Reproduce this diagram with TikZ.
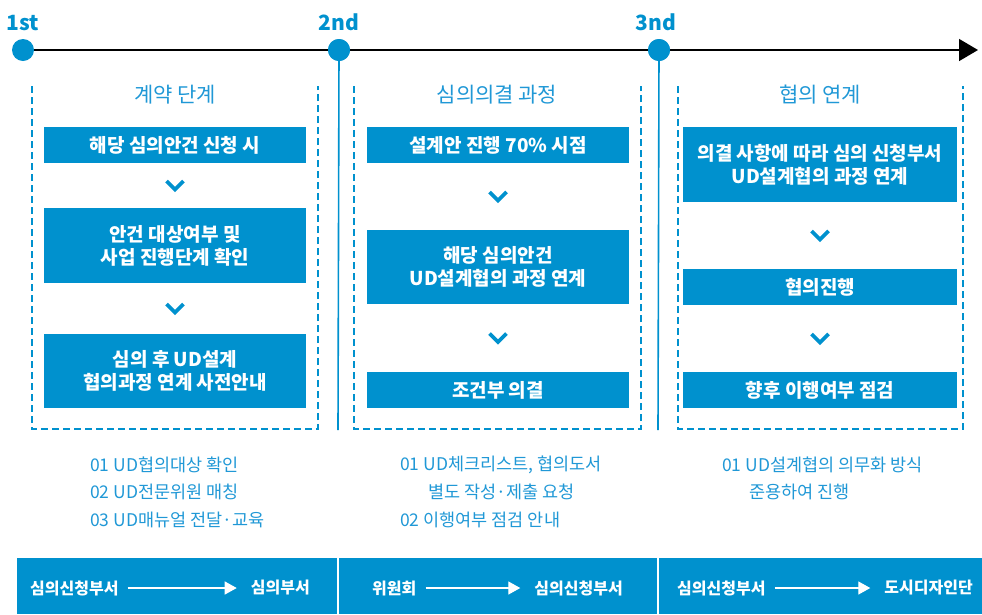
\documentclass[tikz,border=0pt]{standalone}
\usepackage{fontspec}
\setmainfont{Noto Sans CJK KR}
\usepackage{xcolor}
\usetikzlibrary{positioning,arrows.meta,calc}
\definecolor{ublue}{RGB}{0,145,206}
\definecolor{tblue}{RGB}{32,152,214}
\tikzset{
stagebox/.style={
fill=ublue,
text=white,
minimum width=262pt,
minimum height=36pt,
align=center,
inner sep=0pt,
font=\bfseries\fontsize{19}{23}\selectfont
},
dot/.style={
circle,
fill=ublue,
minimum size=22pt,
inner sep=0pt
},
steplabel/.style={
text=ublue,
inner sep=0pt,
font=\bfseries\fontsize{21}{25}\selectfont
},
title/.style={
text=tblue,
inner sep=0pt,
font=\fontsize{21}{25}\selectfont
},
note/.style={
text=tblue,
anchor=west,
inner sep=0pt,
font=\fontsize{17.5}{21}\selectfont
},
bartext/.style={
text=white,
inner sep=0pt,
font=\bfseries\fontsize{16}{19}\selectfont
},
frame/.style={
draw=ublue,
line width=1.1pt,
dash pattern=on 7pt off 4pt
},
chevron/.style={
draw=ublue,
line width=3.6pt,
miter limit=10
},
stem/.style={
draw=ublue,
line width=1.6pt
},
timeline/.style={
draw=black,
line width=1.5pt,
-{Triangle[length=19pt,width=22pt]}
},
flow/.style={
draw=white,
line width=1.3pt,
-{Triangle[length=12pt,width=13pt]},
shorten <=9pt,
shorten >=14pt
}
}

\begin{document}
\begin{tikzpicture}[x=1pt,y=-1pt]
\useasboundingbox (0,0) rectangle (982,614);

\coordinate (t0) at (23,50);
\coordinate (tend) at (978,50);
\draw[timeline] (t0) -- (tend);

\coordinate (s2) at (338,430);
\coordinate (s3) at (658,430);
\node[dot] (d1) at (23,50) {};
\node[dot] (d2) at (339,50) {};
\node[dot] (d3) at (659,50) {};
\draw[stem] (d2.center) -- (s2);
\draw[stem] (d3.center) -- (s3);
\node[dot] at (339,50) {};
\node[dot] at (659,50) {};

\node[steplabel,above=8pt of d1] (l1) {1st};
\node[steplabel,above=8pt of d2] (l2) {2nd};
\node[steplabel,above=8pt of d3,xshift=-3pt] (l3) {3nd};

\draw[frame] (32,86) -- (32,429) -- (318,429) -- (318,86);
\draw[frame] (354,86) -- (354,429) -- (641,429) -- (641,86);
\draw[frame] (678,86) -- (678,429) -- (963,429) -- (963,86);

\node[title] (h1) at (175,95) {계약 단계};
\node[title] (h2) at (497,95) {심의의결 과정};
\node[title] (h3) at (820,95) {협의 연계};

\node[stagebox] (a1) at (175,145) {해당 심의안건 신청 시};
\node[stagebox,minimum height=75pt] (a2) at (175,245.5) {안건 대상여부 및\\사업 진행단계 확인};
\node[stagebox,minimum height=74pt] (a3) at (175,371) {심의 후 UD설계\\협의과정 연계 사전안내};

\node[stagebox] (b1) at (498,145) {설계안 진행 70\% 시점};
\node[stagebox,minimum height=74pt] (b2) at (498,267) {해당 심의안건\\UD설계협의 과정 연계};
\node[stagebox] (b3) at (498,390) {조건부 의결};

\node[stagebox,minimum width=274pt,minimum height=75pt] (c1) at (820,164.5) {의결 사항에 따라 심의 신청부서\\UD설계협의 과정 연계};
\node[stagebox,minimum width=274pt] (c2) at (820,287) {협의진행};
\node[stagebox,minimum width=274pt] (c3) at (820,390) {향후 이행여부 점검};

\foreach \p/\q in {a1/a2,a2/a3,b1/b2,b2/b3,c1/c2,c2/c3}
\draw[chevron] ($(\p.south)!0.5!(\q.north)$) ++(-8.5,-4.5) -- ++(8.5,8.5) -- ++(8.5,-8.5);

\node[note] (n11) at (90,465) {01 UD협의대상 확인};
\node[note] (n12) at (90,492) {02 UD전문위원 매칭};
\node[note] (n13) at (90,520) {03 UD매뉴얼 전달·교육};
\node[note] (n21) at (400,465) {01 UD체크리스트, 협의도서};
\node[note] (n22) at (428,492) {별도 작성·제출 요청};
\node[note] (n23) at (400,520) {02 이행여부 점검 안내};
\node[note] (n31) at (722,465) {01 UD설계협의 의무화 방식};
\node[note] (n32) at (749,492) {준용하여 진행};

\fill[ublue] (17,558) rectangle (982,614);
\draw[white,line width=1.5pt] (338,558) -- (338,614);
\draw[white,line width=1.5pt] (658,558) -- (658,614);

\node[bartext,anchor=west] (f1) at (30,588) {심의신청부서};
\node[bartext,anchor=east] (g1) at (310,588) {심의부서};
\node[bartext,anchor=west] (f2) at (372,588) {위원회};
\node[bartext,anchor=east] (g2) at (623,588) {심의신청부서};
\node[bartext,anchor=west] (f3) at (677,588) {심의신청부서};
\node[bartext,anchor=east] (g3) at (973,588) {도시디자인단};
\draw[flow] (f1) -- (g1);
\draw[flow] (f2) -- (g2);
\draw[flow] (f3) -- (g3);
\end{tikzpicture}
\end{document}
